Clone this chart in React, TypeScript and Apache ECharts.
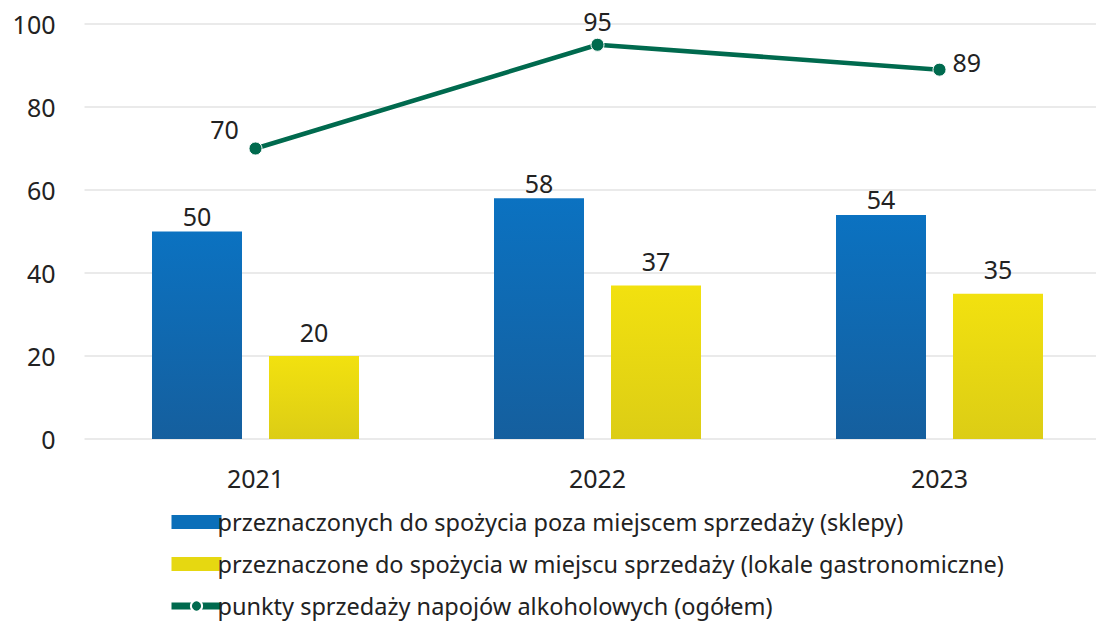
import React, { useEffect, useRef } from "react";
import * as echarts from "echarts";

const categories = ["2021", "2022", "2023"];
const shopsValues = [50, 58, 54];
const gastroValues = [20, 37, 35];
const totalValues = [70, 95, 89];
const seriesNames = [
  "przeznaczonych do spożycia poza miejscem sprzedaży (sklepy)",
  "przeznaczone do spożycia w miejscu sprzedaży (lokale gastronomiczne)",
  "punkty sprzedaży napojów alkoholowych (ogółem)",
];

const FONT = "Noto Sans";
const TEXT = "#222222";
const BLUE = "#0b6fb9";
const YELLOW = "#e6d811";
const GREEN = "#006a4e";

export default function App() {
  const ref = useRef<HTMLDivElement>(null);
  useEffect(() => {
    if (!ref.current) return;
    const chart = echarts.init(ref.current, undefined, { renderer: "svg" });
    const lineLabelPos: any[] = [
      { position: "top", offset: [-31, 4] },
      { position: "top", offset: [0, 0] },
      { position: "right", offset: [2, -8] },
    ];
    chart.setOption({
      animation: false,
      backgroundColor: "#ffffff",
      textStyle: { fontFamily: FONT },
      grid: { left: 84.5, right: 9.5, top: 24, bottom: 221, containLabel: false },
      legend: {
        orient: "vertical",
        left: 163,
        top: 505,
        itemWidth: 50,
        itemHeight: 14,
        itemGap: 18,
        textStyle: { fontFamily: FONT, fontSize: 23.5, color: TEXT, padding: [0, 0, 0, -9] },
        data: [
          { name: seriesNames[0], icon: "rect", itemStyle: { color: BLUE } },
          { name: seriesNames[1], icon: "rect", itemStyle: { color: YELLOW } },
          {
            name: seriesNames[2],
            lineStyle: { color: GREEN, width: 7 },
            itemStyle: { color: GREEN, borderColor: "#ffffff", borderWidth: 2 },
          },
        ],
      },
      xAxis: {
        type: "category",
        data: categories,
        axisLine: { show: false },
        axisTick: { show: false },
        axisLabel: { fontSize: 25, color: TEXT, margin: 26, fontFamily: FONT },
      },
      yAxis: {
        type: "value",
        min: 0,
        max: 100,
        interval: 20,
        axisLine: { show: false },
        axisTick: { show: false },
        splitLine: { lineStyle: { color: "#e3e3e3", width: 1.5 } },
        axisLabel: { fontSize: 25, color: TEXT, margin: 29, fontFamily: FONT },
      },
      series: [
        {
          name: seriesNames[0],
          type: "bar",
          data: shopsValues,
          barWidth: 90,
          barGap: "30%",
          itemStyle: {
            color: new echarts.graphic.LinearGradient(0, 0, 0, 1, [
              { offset: 0, color: "#0b72c1" },
              { offset: 1, color: "#155f9e" },
            ]),
          },
          label: { show: true, position: "top", distance: 3, fontSize: 25, color: TEXT, fontFamily: FONT },
        },
        {
          name: seriesNames[1],
          type: "bar",
          data: gastroValues,
          barWidth: 90,
          itemStyle: {
            color: new echarts.graphic.LinearGradient(0, 0, 0, 1, [
              { offset: 0, color: "#f2e10f" },
              { offset: 1, color: "#dccd15" },
            ]),
          },
          label: { show: true, position: "top", distance: 12, fontSize: 25, color: TEXT, fontFamily: FONT },
        },
        {
          name: seriesNames[2],
          type: "line",
          data: totalValues.map((v, i) => ({ value: v, label: lineLabelPos[i] })),
          symbol: "circle",
          symbolSize: 13,
          lineStyle: { color: GREEN, width: 4.5 },
          itemStyle: { color: GREEN, borderColor: "#ffffff", borderWidth: 1 },
          label: { show: true, fontSize: 25, color: TEXT, distance: 4, fontFamily: FONT },
          z: 5,
        },
      ],
    });
    return () => chart.dispose();
  }, []);
  return (
    <div style={{ position: "fixed", left: 0, top: 0, width: 1096, height: 623, overflow: "hidden" }}>
      <div ref={ref} style={{ position: "absolute", left: 0, top: 0, width: 1120, height: 660 }} />
    </div>
  );
}
